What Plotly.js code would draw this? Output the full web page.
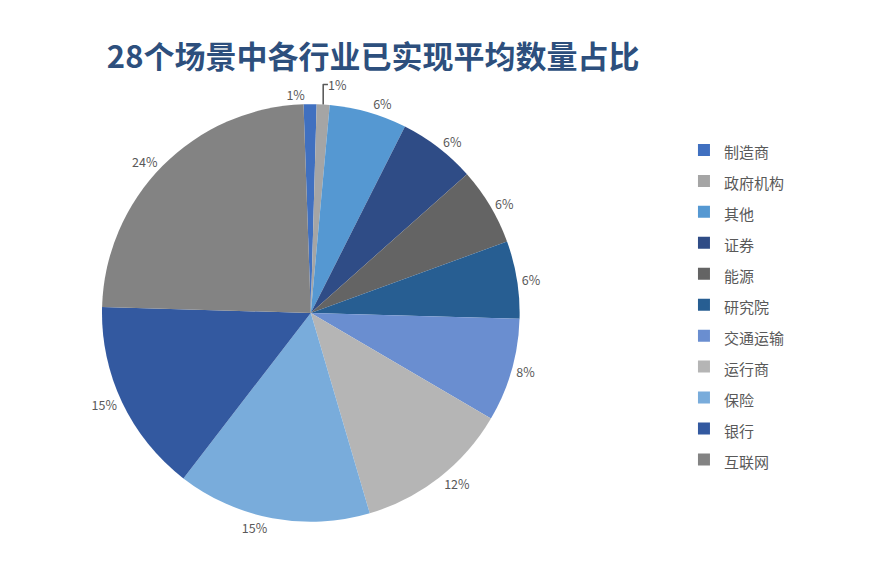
<!DOCTYPE html>
<html>
<head>
<meta charset="utf-8">
<script src="https://cdn.plot.ly/plotly-3.0.1.min.js"></script>
<style>
  html, body { margin: 0; padding: 0; background: #fff; }
  #chart { width: 878px; height: 569px; }
</style>
</head>
<body>
<div id="chart"></div>
<script>
// industries, clockwise from 12 o'clock
const industries = ['制造商', '政府机构', '其他', '证券', '能源', '研究院', '交通运输', '运行商', '保险', '银行', '互联网'];
const shares = [1, 1, 6, 6, 6, 6, 8, 12, 15, 15, 24];
const sliceColors = ['#4070c0', '#a5a5a5', '#5598d2', '#2f4c86', '#646464', '#275e92', '#6a8ed0', '#b5b5b5', '#79acdb', '#3359a0', '#838383'];

// legend rows are spaced by the legend font size, text drawn smaller inside a span
const legendLabels = industries.map(s => '<span style="font-size:15px">' + s + '</span>');

const trace = {
    type: 'pie',
    labels: legendLabels,
    values: shares,
    sort: false,
    direction: 'clockwise',
    // start a hair left of 12 o'clock so the two 1% labels sit side by side
    rotation: -2,
    marker: { colors: sliceColors, line: { color: '#ffffff', width: 0 } },
    texttemplate: '%{value}%',
    textposition: 'outside',
    outsidetextfont: { family: 'Noto Sans CJK SC', size: 12.5, color: '#595959' },
    hoverinfo: 'label+value',
    domain: { x: [0.116, 0.592], y: [0.083, 0.817] }
};

const layout = {
    width: 878,
    height: 569,
    margin: { t: 0, r: 0, b: 0, l: 0 },
    paper_bgcolor: '#ffffff',
    title: {
        text: '<b>28个场景中各行业已实现平均数量占比</b>',
        font: { family: 'Noto Sans CJK SC', size: 31, color: '#2d4f7d' },
        x: 0.425, xanchor: 'center',
        y: 0.9, yanchor: 'middle'
    },
    showlegend: true,
    legend: {
        x: 0.779, xanchor: 'left',
        y: 0.464, yanchor: 'middle',
        font: { family: 'Noto Sans CJK SC', size: 21.5, color: '#595959' },
        traceorder: 'normal'
    }
};

Plotly.newPlot('chart', [trace], layout, { displayModeBar: false });
</script>
</body>
</html>
